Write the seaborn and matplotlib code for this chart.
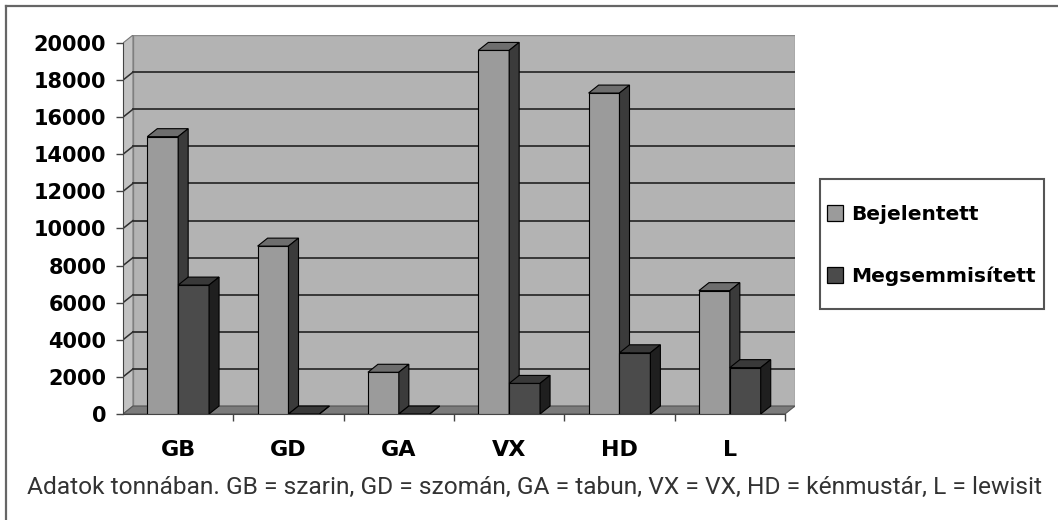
import seaborn as sns
import matplotlib.pyplot as plt
import pandas as pd
from matplotlib.patches import Polygon, Rectangle

# adatok (tonna)
agensek = ["GB", "GD", "GA", "VX", "HD", "L"]
bejelentett = [14950, 9050, 2250, 19600, 17300, 6650]
megsemmisitett = [6950, 0, 0, 1650, 3300, 2500]
sorozatok = ["Bejelentett", "Megsemmisített"]
y_ticks = list(range(0, 20001, 2000))
felirat = ("Adatok tonnában. GB = szarin, GD = szomán, GA = tabun, VX = VX, "
           "HD = kénmustár, L = lewisit")

df = pd.DataFrame({
    "agens": agensek * 2,
    "sorozat": [sorozatok[0]] * len(agensek) + [sorozatok[1]] * len(agensek),
    "tonna": bejelentett + megsemmisitett,
})

W, H = 1058, 520
fig = plt.figure(figsize=(W / 100, H / 100), dpi=100)
fig.patch.set_facecolor("white")

# axes placed in pixel terms: front axis at x=123, back wall right edge 795
ax = fig.add_axes([123 / W, (H - 414) / H, (795 - 123) / W, (414 - 35) / H])
ax.set_facecolor("none")

dx = 10 / 110.3  # depth in category units
dy = 430         # depth in value units

light, dark = "#9b9b9b", "#4b4b4b"
top_c = {0: "#6e6e6e", 1: "#393939"}
side_c = {0: "#3b3b3b", 1: "#1f1f1f"}

sns.barplot(data=df, x="agens", y="tonna", hue="sorozat", palette=[light, dark],
            width=0.56, edgecolor="black", linewidth=0.8, errorbar=None,
            saturation=1, ax=ax)

n = len(agensek)
ax.set_xlim(-0.5, n - 0.5 + dx)
ax.set_ylim(0, 20000 + dy)

# 3D look: back wall, left wall, floor
ax.add_patch(Rectangle((-0.5 + dx, dy), n, 20000, facecolor="#b3b3b3",
                       edgecolor="#8a8a8a", lw=1, zorder=0))
ax.add_patch(Polygon([(-0.5, 0), (-0.5 + dx, dy), (-0.5 + dx, 20000 + dy), (-0.5, 20000)],
                     closed=True, facecolor="#c2c2c2", edgecolor="#777777", lw=0.8, zorder=0.5))
ax.add_patch(Polygon([(-0.5, 0), (n - 0.5, 0), (n - 0.5 + dx, dy), (-0.5 + dx, dy)],
                     closed=True, facecolor="#7b7b7b", edgecolor="#555555", lw=0.8, zorder=0.6))
for v in y_ticks[1:-1]:
    ax.plot([-0.5 + dx, n - 0.5 + dx], [v + dy, v + dy], color="#2e2e2e", lw=1.3, zorder=0.7)
    ax.plot([-0.5, -0.5 + dx], [v, v + dy], color="#2e2e2e", lw=1.1, zorder=0.7)

# top and side faces for every bar, from the bars seaborn drew
for h, cont in enumerate(ax.containers):
    for i, bar in enumerate(cont):
        x0 = bar.get_x()
        x1 = x0 + bar.get_width()
        top = bar.get_height()
        z = 2 + i * 4 + h * 2
        bar.set_zorder(z)
        ax.add_patch(Polygon([(x0, top), (x1, top), (x1 + dx, top + dy), (x0 + dx, top + dy)],
                             closed=True, facecolor=top_c[h], edgecolor="black", lw=0.8,
                             zorder=z + 0.5))
        ax.add_patch(Polygon([(x1, 0), (x1, top), (x1 + dx, top + dy), (x1 + dx, dy)],
                             closed=True, facecolor=side_c[h], edgecolor="black", lw=0.8,
                             zorder=z + 0.5))

# axes styling
for s in ["top", "right"]:
    ax.spines[s].set_visible(False)
ax.spines["left"].set_bounds(0, 20000)
ax.spines["bottom"].set_bounds(-0.5, n - 0.5)
ax.spines["left"].set_color("#444444")
ax.spines["bottom"].set_color("#444444")
ax.spines["left"].set_zorder(1)
ax.spines["bottom"].set_zorder(1)
ax.set_yticks(y_ticks)
ax.set_yticklabels([str(v) for v in y_ticks], fontsize=15, fontweight="bold",
                   family="DejaVu Sans")
ax.tick_params(axis="y", length=5, width=1, color="#444444", pad=7)
ax.set_xticks(range(n))
ax.set_xticklabels(agensek, fontsize=16, fontweight="bold", family="DejaVu Sans")
ax.set_xticks([i + 0.5 for i in range(n)], minor=True)
ax.tick_params(axis="x", which="major", length=0, pad=19)
ax.tick_params(axis="x", which="minor", length=5, width=1, color="#444444")
ax.set_xlabel("")
ax.set_ylabel("")
ax.grid(False)

# legend
handles, labels = ax.get_legend_handles_labels()
if ax.get_legend():
    ax.get_legend().remove()
leg = fig.legend(handles, labels, loc="center left",
                 bbox_to_anchor=(827 / W, (H - 245.5) / H), frameon=False,
                 prop={"family": "DejaVu Sans", "weight": "bold", "size": 14.5},
                 borderpad=0, borderaxespad=0, handlelength=0.8, handleheight=0.8,
                 handletextpad=0.4, labelspacing=2.1)
for p in leg.get_patches():
    p.set_edgecolor("black")
    p.set_linewidth(0.9)
fig.add_artist(Rectangle((820 / W, (H - 309) / H), 224 / W, 130 / H,
                         transform=fig.transFigure, facecolor="none",
                         edgecolor="#555555", lw=1.5))

# caption, fitted to the width of the reference line
cap = fig.text(27 / W, (H - 487) / H, felirat, fontsize=15, family="Roboto",
               fontweight="normal", color="#333333", va="center", ha="left")
fig.canvas.draw()
wpx = cap.get_window_extent().width
cap.set_fontsize(15 * 1013 / wpx)

# outer frame (left and top edges)
fig.add_artist(plt.Line2D([6 / W, 6 / W], [0, (H - 6) / H], transform=fig.transFigure,
                          color="#666666", lw=1.6))
fig.add_artist(plt.Line2D([6 / W, 1], [(H - 6) / H, (H - 6) / H], transform=fig.transFigure,
                          color="#666666", lw=1.6))

fig.savefig("out.png", dpi=100)
